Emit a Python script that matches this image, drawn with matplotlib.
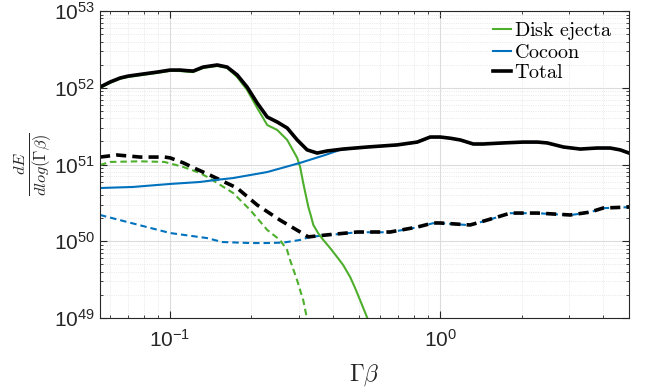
import numpy as np
import matplotlib
matplotlib.use("Agg")
import matplotlib.pyplot as plt
from matplotlib.font_manager import FontProperties

plt.rcParams["mathtext.fontset"] = "custom"
plt.rcParams["mathtext.rm"] = "Liberation Sans"
plt.rcParams["mathtext.it"] = "Liberation Sans:italic"
plt.rcParams["mathtext.bf"] = "Liberation Sans:bold"
plt.rcParams["font.family"] = "Liberation Sans"

# ---- data ----
total_x = [0.055, 0.060, 0.0653, 0.070, 0.0794, 0.0895, 0.100, 0.1089, 0.1156, 0.1217, 0.1325,
           0.1494, 0.1626, 0.1771, 0.1928, 0.2101, 0.2288, 0.2491, 0.2713, 0.2954, 0.3216,
           0.3502, 0.381, 0.437, 0.537, 0.693, 0.822, 0.918, 1.00, 1.089, 1.186, 1.325, 1.44,
           1.71, 2.03, 2.29, 2.49, 2.86, 3.30, 3.81, 4.26, 4.64, 5.0]
total_y = [1.02e52, 1.19e52, 1.34e52, 1.42e52, 1.51e52, 1.60e52, 1.70e52, 1.70e52, 1.67e52,
           1.65e52, 1.86e52, 1.98e52, 1.86e52, 1.47e52, 1.02e52, 6.32e51, 4.16e51, 3.58e51,
           2.99e51, 2.09e51, 1.55e51, 1.41e51, 1.50e51, 1.59e51, 1.69e51, 1.80e51, 1.96e51,
           2.28e51, 2.28e51, 2.20e51, 2.09e51, 1.85e51, 1.85e51, 1.91e51, 1.96e51, 1.96e51,
           1.91e51, 1.69e51, 1.59e51, 1.64e51, 1.64e51, 1.55e51, 1.41e51]

disk_x = [0.055, 0.060, 0.0653, 0.070, 0.0794, 0.0895, 0.100, 0.1089, 0.1156, 0.1217, 0.1325,
          0.1494, 0.1626, 0.1771, 0.1928, 0.2101, 0.2288, 0.2491, 0.2713, 0.2954, 0.303,
          0.311, 0.319, 0.325, 0.333, 0.339, 0.353, 0.369, 0.391, 0.415, 0.437, 0.464, 0.484,
          0.505, 0.541, 0.560]
disk_y = [9.9e51, 1.16e52, 1.31e52, 1.38e52, 1.47e52, 1.56e52, 1.66e52, 1.65e52, 1.62e52,
          1.60e52, 1.81e52, 1.92e52, 1.81e52, 1.38e52, 9.35e51, 5.45e51, 3.27e51, 2.82e51,
          2.09e51, 1.22e51, 9.27e50, 5.74e50, 3.78e50, 2.79e50, 2.07e50, 1.63e50, 1.28e50,
          1.04e50, 8.17e49, 6.24e49, 4.91e49, 3.42e49, 2.46e49, 1.71e49, 9.4e48, 6.0e48]

disk_dash_x = [0.055, 0.060, 0.0774, 0.0953, 0.112, 0.129, 0.1402, 0.171, 0.198, 0.229, 0.255,
               0.271, 0.278, 0.295, 0.311, 0.322, 0.330]
disk_dash_y = [9.85e50, 1.08e51, 1.10e51, 1.08e51, 9.27e50, 7.74e50, 6.6e50, 4.26e50, 2.55e50,
               1.40e50, 1.04e50, 7.7e49, 5.7e49, 3.13e49, 1.71e49, 9.4e48, 6.0e48]

cocoon_x = [0.055, 0.0729, 0.100, 0.129, 0.147, 0.171, 0.229, 0.303, 0.375, 0.426, 0.505,
            0.537, 0.693, 0.822, 0.918, 1.00, 1.089, 1.186, 1.325, 1.44, 1.71, 2.03, 2.29, 2.49,
            2.86, 3.30, 3.81, 4.26, 4.64, 5.0]
cocoon_y = [4.94e50, 5.10e50, 5.58e50, 5.92e50, 6.28e50, 6.66e50, 7.98e50, 1.05e51, 1.33e51,
            1.55e51, 1.66e51, 1.68e51, 1.79e51, 1.95e51, 2.27e51, 2.27e51, 2.19e51, 2.08e51,
            1.84e51, 1.84e51, 1.90e51, 1.95e51, 1.95e51, 1.90e51, 1.68e51, 1.58e51, 1.63e51,
            1.63e51, 1.54e51, 1.40e51]

total_dash_x = [0.055, 0.0636, 0.0774, 0.0953, 0.100, 0.112, 0.1226, 0.1402, 0.177, 0.210,
                0.255, 0.303, 0.325, 0.381, 0.493, 0.653, 0.822, 0.942, 1.00, 1.29, 1.37, 1.63,
                1.82, 2.29, 3.03, 3.59, 4.01, 5.0]
total_dash_y = [1.25e51, 1.33e51, 1.25e51, 1.25e51, 1.22e51, 1.05e51, 9.0e50, 7.3e50, 4.94e50,
                2.97e50, 1.89e50, 1.32e50, 1.14e50, 1.21e50, 1.32e50, 1.32e50, 1.53e50, 1.73e50,
                1.73e50, 1.63e50, 1.73e50, 2.07e50, 2.33e50, 2.33e50, 2.20e50, 2.40e50, 2.71e50,
                2.79e50]

cocoon_dash_x = [0.055, 0.100, 0.137, 0.156, 0.198, 0.229, 0.262, 0.303, 0.330, 0.381, 0.493,
                 0.653, 0.822, 0.942, 1.00, 1.29, 1.37, 1.63, 1.82, 2.29, 3.03, 3.59, 4.01, 5.0]
cocoon_dash_y = [2.20e50, 1.28e50, 1.10e50, 9.77e49, 9.48e49, 9.48e49, 9.6e49, 1.04e50, 1.14e50,
                 1.20e50, 1.31e50, 1.31e50, 1.52e50, 1.72e50, 1.72e50, 1.62e50, 1.72e50, 2.06e50,
                 2.32e50, 2.32e50, 2.19e50, 2.39e50, 2.70e50, 2.78e50]

labels = [r"$\mathrm{Disk\ ejecta}$", r"$\mathrm{Cocoon}$", r"$\mathrm{Total}$"]

green = "#4DAF2C"
blue = "#0072BD"
dark = "#262626"

fig = plt.figure(figsize=(6.46, 3.90), dpi=100)
ax = fig.add_axes([0.1548, 0.1846, 0.8189, 0.7872])

ax.plot(cocoon_dash_x, cocoon_dash_y, color=blue, lw=1.5, ls=(0, (3.1, 1.9)))
ax.plot(disk_dash_x, disk_dash_y, color=green, lw=1.5, ls=(0, (3.1, 1.9)))
ax.plot(total_dash_x, total_dash_y, color="black", lw=2.6, ls=(0, (2.8, 1.7)))
l1, = ax.plot(disk_x, disk_y, color=green, lw=1.5)
l2, = ax.plot(cocoon_x, cocoon_y, color=blue, lw=1.5)
l3, = ax.plot(total_x, total_y, color="black", lw=2.6)

ax.set_xscale("log")
ax.set_yscale("log")
ax.set_xlim(0.055, 5.0)
ax.set_ylim(1e49, 1e53)

ax.grid(True, which="major", color="#dcdcdc", lw=0.8, ls="-")
ax.grid(True, which="minor", color="#e2e2e2", lw=0.6, ls=":")
ax.set_axisbelow(True)
ax.tick_params(which="both", direction="in", top=True, right=True, colors=dark,
               labelsize=15)
ax.tick_params(which="major", length=5)
ax.tick_params(which="minor", length=2.5)
ax.tick_params(axis="x", pad=8)
ax.yaxis.set_major_locator(matplotlib.ticker.LogLocator(base=10, numticks=10))
ax.yaxis.set_minor_locator(matplotlib.ticker.LogLocator(base=10, subs=np.arange(2, 10), numticks=20))
for s in ax.spines.values():
    s.set_color(dark)
    s.set_linewidth(0.8)

ax.set_xlabel(r"$\Gamma\beta$", fontsize=17, math_fontfamily="cm", color=dark, labelpad=8)
ax.set_ylabel(r"$\frac{dE}{dlog(\Gamma\beta)}$", fontsize=17, math_fontfamily="cm",
              color=dark, labelpad=0)

leg = ax.legend([l1, l2, l3], labels, loc="upper right", frameon=False,
                prop=FontProperties(size=14.5, math_fontfamily="cm"),
                handlelength=0.85, handletextpad=0.15, labelspacing=0.05,
                borderaxespad=0.2, bbox_to_anchor=(0.99, 1.01))

fig.savefig("out.png", dpi=100)
